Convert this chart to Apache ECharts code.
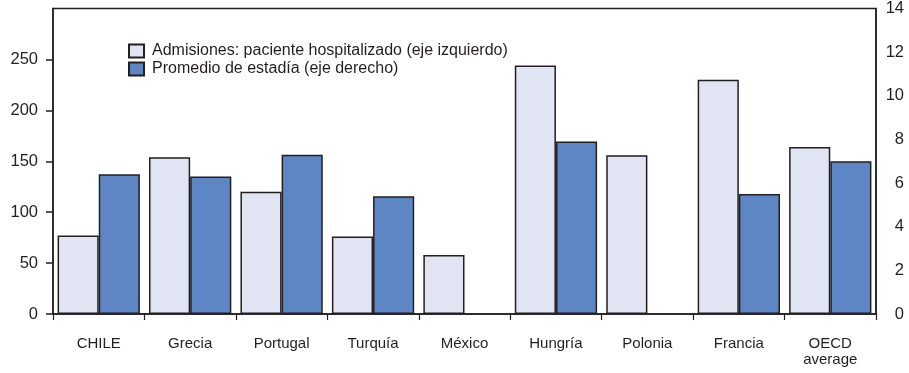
<!DOCTYPE html>
<html>
<head>
<meta charset="utf-8">
<script src="https://cdn.jsdelivr.net/npm/echarts@6/dist/echarts.min.js"></script>
<style>html,body{margin:0;padding:0;background:#fff}#c{width:909px;height:373px}</style>
</head>
<body>
<div id="c"></div>
<script>
const categories = ['CHILE', 'Grecia', 'Portugal', 'Turquía', 'México', 'Hungría', 'Polonia', 'Francia', 'OECD\naverage'];
const admisiones = [77, 154, 120, 76, 58, 244, 156, 230, 164];
const estadia = [6.4, 6.3, 7.3, 5.4, null, 7.9, null, 5.5, 7.0];
const seriesNames = ['Admisiones: paciente hospitalizado (eje izquierdo)', 'Promedio de estadía (eje derecho)'];

const FONT = 'Liberation Sans, Arial, sans-serif';
const TXT = '#231f20';
const LINE = '#231f20';

const chart = echarts.init(document.getElementById('c'), null, {renderer: 'canvas'});
chart.setOption({
  animation: false,
  textStyle: {fontFamily: FONT},
  grid: {left: 53, right: 33, top: 6, bottom: 59, show: true, borderColor: LINE, borderWidth: 1.5, backgroundColor: 'transparent'},
  legend: {
    orient: 'vertical', left: 123, top: 38, icon: 'rect',
    itemWidth: 15, itemHeight: 13, itemGap: 2,
    textStyle: {fontSize: 16, lineHeight: 16, color: TXT, fontFamily: FONT, padding: [0, 0, 0, 3]},
    data: seriesNames
  },
  xAxis: {
    type: 'category', data: categories,
    axisLine: {lineStyle: {color: LINE, width: 1.5}},
    axisTick: {show: true, length: 6, lineStyle: {color: LINE, width: 1.2}},
    axisLabel: {color: TXT, fontSize: 15, margin: 22, interval: 0, lineHeight: 16, fontFamily: FONT},
    splitLine: {show: false}
  },
  yAxis: [
    {
      type: 'value', min: 0, max: 300, interval: 50,
      axisLine: {show: true, lineStyle: {color: LINE, width: 1.5}},
      axisTick: {show: true, length: 7, lineStyle: {color: LINE, width: 1.5}},
      axisLabel: {color: TXT, fontSize: 16.5, margin: 15, showMaxLabel: false, fontFamily: FONT},
      splitLine: {show: false}
    },
    {
      type: 'value', min: 0, max: 14, interval: 2, position: 'right',
      axisLine: {show: true, lineStyle: {color: LINE, width: 1.5}},
      axisTick: {show: false},
      axisLabel: {color: TXT, fontSize: 16.5, margin: 28, align: 'right', fontFamily: FONT},
      splitLine: {show: false}
    }
  ],
  series: [
    {
      name: seriesNames[0], type: 'bar', yAxisIndex: 0, data: admisiones,
      barGap: '0%', barCategoryGap: '10%',
      itemStyle: {color: '#e1e4f3', borderColor: LINE, borderWidth: 1.5}
    },
    {
      name: seriesNames[1], type: 'bar', yAxisIndex: 1, data: estadia,
      barGap: '0%', barCategoryGap: '10%',
      itemStyle: {color: '#5f86c4', borderColor: LINE, borderWidth: 1.5}
    }
  ]
});
</script>
</body>
</html>
